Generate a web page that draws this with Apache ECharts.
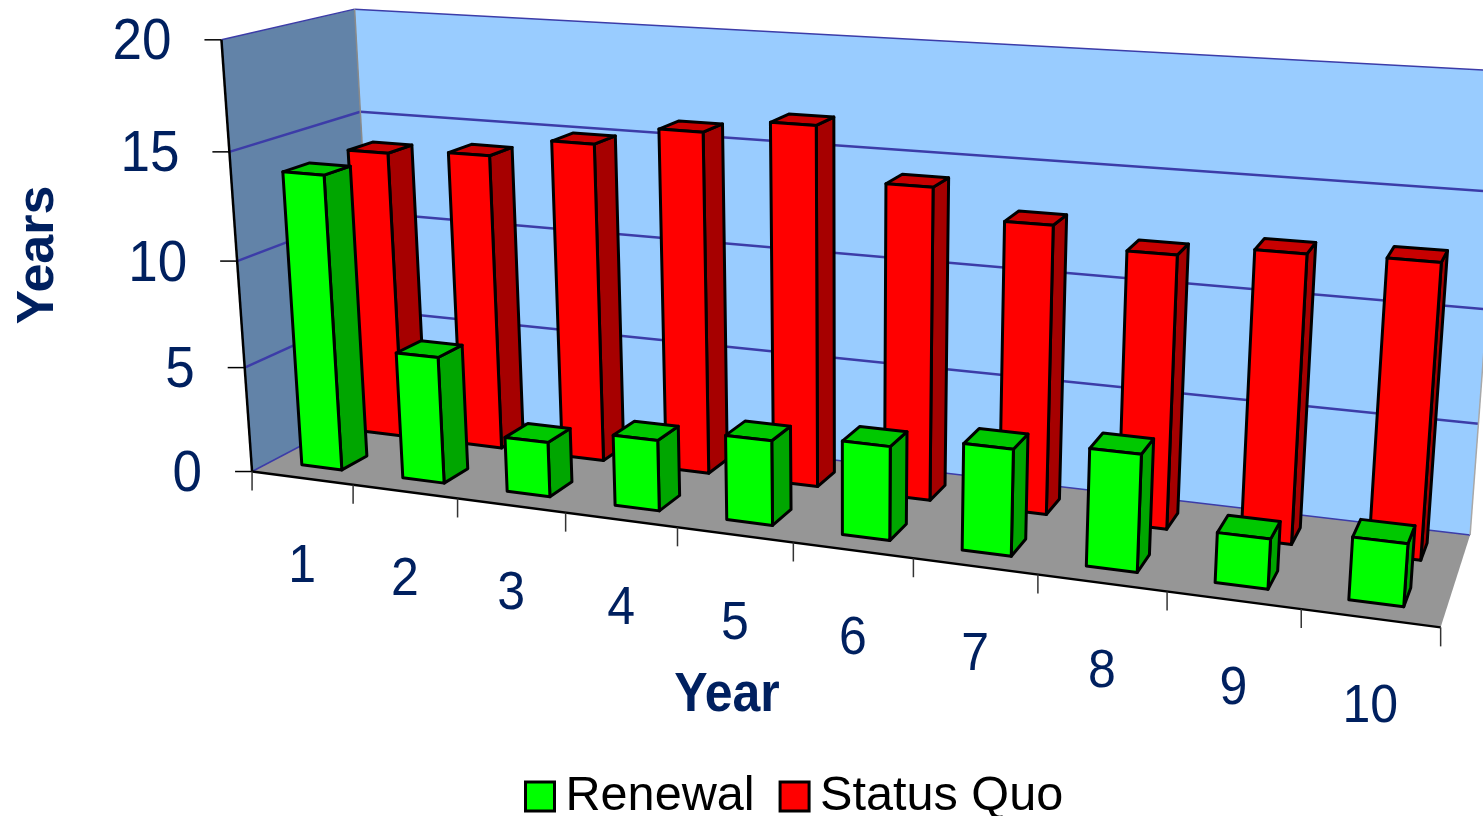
<!DOCTYPE html>
<html><head><meta charset="utf-8">
<style>html,body{margin:0;padding:0;background:#fff}#c{width:1483px;height:816px}</style>
<script src="https://cdn.jsdelivr.net/npm/echarts@6/dist/echarts.min.js"></script>
</head><body><div id="c"></div>
<script>
// Years until renewal per program year, in two rows of 3D columns
const categories = ['1','2','3','4','5','6','7','8','9','10'];
const renewal   = [13.9, 5.95, 2.55, 3.25, 3.85, 4.2, 4.7, 5.1, 2.15, 2.65];
const statusQuo = [13.9, 14.15, 15.05, 15.95, 16.6, 14.25, 13, 12.15, 12.65, 12.75];
const yTicks = [0, 5, 10, 15, 20];

// Camera calibration: [x, value, depth, screenX, screenY]
const anchors = [
  [0,0,0,252,471],[0,20,0,222,40.5],[0,10,0,237.5,260],[0,0,1,377.5,408],[0,20,1,354,9],
  [10,0,0,1441,628],[10,0,1,1470,533],[10,20,1,1505,72],[5,0,0,793,542.4],[1,0,0,352.5,484.5],[9,0,0,1301,610],[0,15,1,360,111]
];

// Least-squares fit of a projective camera to the anchors
function solveCamera(pts){
  const A=[],b=[];
  pts.forEach(([x,y,z,u,v])=>{
    A.push([x,y,z,1,0,0,0,0,-u*x,-u*y,-u*z]);b.push(u);
    A.push([0,0,0,0,x,y,z,1,-v*x,-v*y,-v*z]);b.push(v);
  });
  const n=11,M=[];
  for(let i=0;i<n;i++){M.push(new Array(n+1).fill(0));
    for(let j=0;j<n;j++)for(let k=0;k<A.length;k++)M[i][j]+=A[k][i]*A[k][j];
    for(let k=0;k<A.length;k++)M[i][n]+=A[k][i]*b[k];}
  for(let i=0;i<n;i++){let p=i;for(let r=i+1;r<n;r++)if(Math.abs(M[r][i])>Math.abs(M[p][i]))p=r;
    [M[i],M[p]]=[M[p],M[i]];
    for(let r=0;r<n;r++)if(r!==i){const f=M[r][i]/M[i][i];for(let c=i;c<=n;c++)M[r][c]-=f*M[i][c];}}
  return M.map((r,i)=>r[n]/r[i]);
}
const cam=solveCamera(anchors);
function project(x,y,z){const w=cam[8]*x+cam[9]*y+cam[10]*z+1;
  return [(cam[0]*x+cam[1]*y+cam[2]*z+cam[3])/w,(cam[4]*x+cam[5]*y+cam[6]*z+cam[7])/w];}

const chart=echarts.init(document.getElementById('c'),null,{renderer:'canvas'});
const NAVY='#00205f', GRID='#3c3ca8', FONT='"Liberation Sans", Arial, sans-serif';

// Reads a data point through the cartesian axes, back into axis units for the camera
function modelOf(api,params,x,v){const c=api.coord([x,v]),s=params.coordSys;
  return [(c[0]-s.x)/s.width*10,(s.y+s.height-c[1])/s.height*20];}
function poly(points,fill,stroke,lw){return{type:'polygon',shape:{points},style:{fill,stroke:stroke||'none',lineWidth:lw||0,lineJoin:'round'}};}
function line(a,b,stroke,lw){return{type:'line',shape:{x1:a[0],y1:a[1],x2:b[0],y2:b[1]},style:{stroke,lineWidth:lw}};}
function text(t,x,y,size,opts){return Object.assign({type:'text',x,y,style:Object.assign({text:t,font:size+'px '+FONT,fill:NAVY,align:'center',verticalAlign:'middle'},opts&&opts.style)},opts&&opts.el);}

// Walls, floor, gridlines, ticks and axis text
function renderFrame(params,api){
  const P=(x,v,z)=>{const m=modelOf(api,params,x,v);return project(m[0],m[1],z);};
  const kids=[];
  kids.push(poly([P(0,0,1),P(10,0,1),P(10,20,1),P(0,20,1)],'#99ccff'));
  kids.push(poly([P(0,0,0),P(0,0,1),P(0,20,1),P(0,20,0)],'#6283a8'));
  kids.push(poly([P(0,0,0),P(10,0,0),P(10,0,1),P(0,0,1)],'#969696'));
  yTicks.forEach(t=>{const w=(t===0||t===20)?1.5:2.5;
    kids.push(line(P(0,t,0),P(0,t,1),GRID,w));kids.push(line(P(0,t,1),P(10,t,1),GRID,w));});
  kids.push(line(P(0,0,1),P(0,20,1),'#8a8a8a',1.5));
  kids.push(line(P(10,0,1),P(10,20,1),'#a8a8a8',1.5));
  kids.push(line(P(0,0,0),P(0,20,0),'#000',2.5));
  kids.push(line(P(0,0,0),P(10,0,0),'#000',2.5));
  yTicks.forEach(t=>{const a=P(0,t,0);
    kids.push(line([a[0]-17,a[1]],a,'#000',1.5));
    kids.push(text(String(t),a[0]-50,a[1]+4,53,{el:{scaleY:1.07},style:{align:'right'}}));});
  for(let i=0;i<=categories.length;i++){const a=P(i,0,0);kids.push(line(a,[a[0],a[1]+19],'#333',1.5));}
  categories.forEach((c,i)=>{const a=P(i+.5,0,0);kids.push(text(c,a[0],a[1]+89,50,{el:{scaleY:1.07}}));});
  kids.push(text('Year',727,696,50,{el:{scaleY:1.1},style:{font:'bold 50px '+FONT}}));
  kids.push(text('Years',39,255,52,{el:{rotation:Math.PI/2},style:{font:'bold 52px '+FONT}}));
  return{type:'group',children:kids};
}

// One 3D column: side, top and front faces
function barRenderer(zFront,zBack,front,side,top){
  return function(params,api){
    const i=api.value(0),v=api.value(1);
    const P=(x,h,z)=>{const m=modelOf(api,params,x,h);return project(m[0],m[1],z);};
    const x0=i+.3,x1=i+.7,e='#000',w=3;
    return{type:'group',children:[
      poly([P(x1,0,zFront),P(x1,0,zBack),P(x1,v,zBack),P(x1,v,zFront)],side,e,w),
      poly([P(x0,v,zFront),P(x1,v,zFront),P(x1,v,zBack),P(x0,v,zBack)],top,e,w),
      poly([P(x0,0,zFront),P(x1,0,zFront),P(x1,v,zFront),P(x0,v,zFront)],front,e,w)
    ]};
  };
}

chart.setOption({
  animation:false,
  grid:{left:100,top:100,width:1000,height:400},
  xAxis:{type:'value',min:0,max:10,show:false},
  yAxis:{type:'value',min:0,max:20,interval:5,show:false},
  legend:{data:['Renewal','Status Quo'],left:524,top:772,padding:0,icon:'rect',itemWidth:29,itemHeight:29,itemGap:24,
    textStyle:{fontFamily:FONT,fontSize:48.6,color:'#000',padding:[0,0,0,6]},
    itemStyle:{borderColor:'#000',borderWidth:3}},
  series:[
    {name:'Frame',type:'custom',z:1,silent:true,renderItem:renderFrame,data:[[0,0]],clip:false},
    {name:'Status Quo',type:'custom',z:2,itemStyle:{color:'#ff0000'},renderItem:barRenderer(.65,.85,'#ff0000','#a60000','#c80000'),data:statusQuo.map((v,i)=>[i,v])},
    {name:'Renewal',type:'custom',z:3,itemStyle:{color:'#00ff00'},renderItem:barRenderer(.15,.35,'#00ff00','#00a600','#00c800'),data:renewal.map((v,i)=>[i,v])}
  ]
});
</script></body></html>
